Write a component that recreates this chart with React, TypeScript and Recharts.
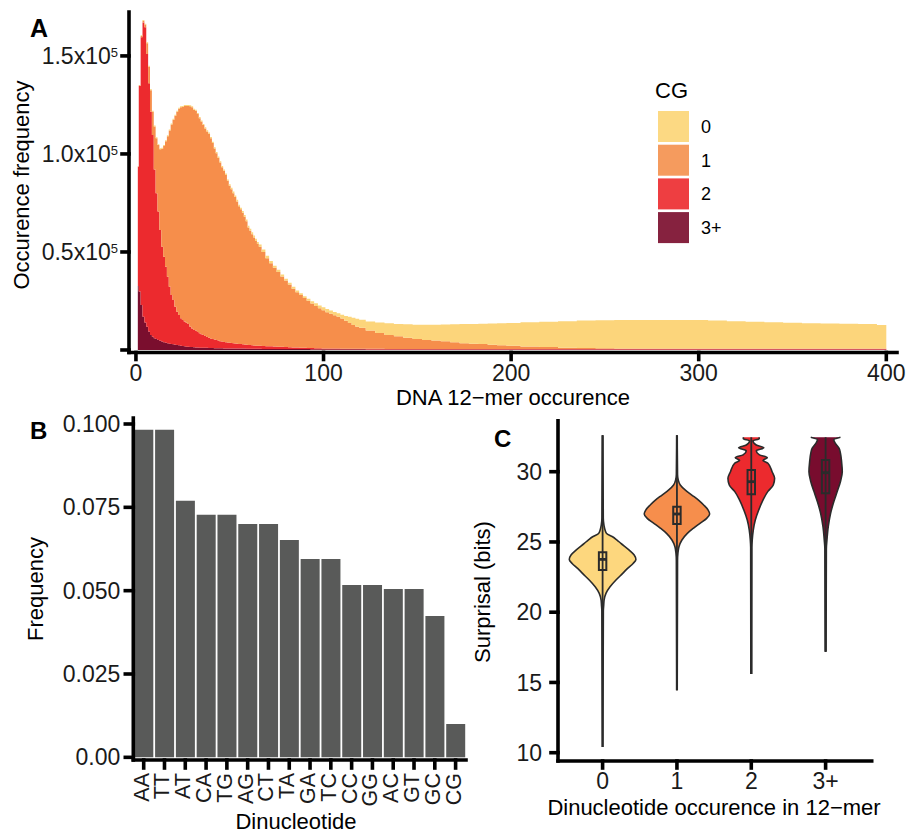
import React from "react";
import {
  AreaChart,
  Area,
  BarChart,
  Bar,
  ComposedChart,
  XAxis,
  YAxis,
  ReferenceArea,
  ReferenceLine,
} from "recharts";

const FONT = '"Liberation Sans", Arial, Helvetica, sans-serif';
const INK = "#1a1a1a";

// ---------- A: 12-mer occurrence histogram, counts in thousands, split by CG count
const occurrence = [
  1, 2, 3, 4, 5, 6, 7, 8, 9, 10, 11, 12, 13, 14, 15, 16, 17, 18, 19, 20, 21, 22, 23, 24, 25, 26, 27, 28, 29, 30,
  31, 32, 33, 34, 35, 36, 37, 38, 39, 40, 41, 42, 43, 44, 45, 46, 47, 48, 49, 50, 51, 52, 53, 54, 55, 56, 57, 58,
  59, 60, 61, 62, 63, 64, 65, 66,
  68, 70, 72, 74, 76, 78, 80, 82, 84, 86, 88, 90, 92, 94, 96, 98, 100, 102, 104, 106, 108, 110, 112, 114, 116, 118, 120,
  125, 130, 135, 140, 145, 150, 155, 160, 165, 170, 175, 180, 185, 190, 195, 200,
  210, 220, 230, 240, 250, 260, 270, 280, 290, 300, 310, 320, 330, 340, 350, 360, 370, 380, 390, 400,
];
const cg0 = [
  0.2, 0.2, 0.3, 0.3, 0.4, 0.5, 0.5, 0.5, 0.5, 0.5, 0.5, 0.5, 0.5, 0.5, 0.5, 0.5, 0.5, 0.5, 0.5, 0.5, 0.5, 0.5, 0.5,
  0.5, 0.5, 0.5, 0.5, 0.5, 0.5, 0.5, 0.5, 0.5, 0.5, 0.6, 0.6, 0.6, 0.6, 0.6, 0.6, 0.6, 0.6, 0.6, 0.6, 0.7, 0.7, 0.7,
  0.7, 0.7, 0.7, 0.8, 0.8, 0.8, 0.8, 0.8, 0.8, 0.8, 0.9, 0.9, 0.9, 0.9, 1.0, 1.0, 1.0, 1.1, 1.1, 1.2,
  1.3, 1.3, 1.2, 1.1, 1.1, 1.0, 1.0, 0.9, 0.9, 0.9, 0.9, 0.9, 1.0, 1.2, 1.4, 1.4, 1.5, 1.6, 1.6, 1.7, 1.8, 2.0, 2.5,
  3.1, 3.6, 4.0, 4.1,
  4.6, 5.3, 5.9, 6.3, 6.8, 7.3, 7.8, 8.1, 8.6, 9.2, 9.7, 10.1, 10.4, 10.8, 11.2, 11.6,
  12.3, 12.9, 13.5, 14.0, 14.3, 14.5, 14.5, 14.5, 14.5, 14.5, 14.2, 13.9, 13.6, 13.4, 13.1, 12.9, 12.7, 12.6, 12.4, 12.0,
];
const cg1 = [
  0.2, 0.3, 0.7, 1.0, 1.4, 5.5, 8.5, 10.9, 11.8, 22.0, 28.0, 33.9, 41.2, 49.9, 56.4, 64.0, 71.6, 79.7, 87.0, 92.0,
  97.5, 102.0, 105.1, 107.6, 108.7, 110.0, 110.6, 111.2, 112.4, 112.8, 112.4, 112.0, 111.2, 109.7, 108.5, 107.1,
  105.9, 104.9, 104.1, 102.2, 100.0, 97.5, 95.3, 93.2, 91.1, 88.9, 87.3, 85.4, 82.5, 80.1, 78.4, 76.5, 74.7, 72.6,
  70.2, 68.8, 67.1, 65.2, 63.0, 59.9, 58.3, 56.6, 55.1, 53.4, 51.9, 50.5,
  48.0, 44.9, 42.35, 40.1, 38.1, 35.9, 33.9, 32.0, 30.0, 28.25, 26.8, 25.4, 24.05, 22.7, 21.45, 20.4, 19.5, 18.55,
  17.8, 17.0, 16.2, 15.35, 14.25, 13.15, 12.2, 11.3, 10.7,
  9.3, 8.1, 7.15, 6.45, 5.75, 5.05, 4.6, 4.3, 3.9, 3.4, 3.0, 2.7, 2.5, 2.2, 1.9, 1.7,
  1.3, 1.0, 0.7, 0.5, 0.4, 0.3, 0.3, 0.3, 0.3, 0.3, 0.3, 0.3, 0.3, 0.3, 0.3, 0.3, 0.3, 0.3, 0.3, 0.3,
];
const cg2 = [
  60.9, 104.9, 136.5, 150.0, 150.6, 139.1, 126.6, 113.9, 102.9, 86.0, 74.4, 65.5, 56.5, 48.4, 43.6, 38.8, 34.0,
  29.1, 25.0, 22.6, 19.3, 17.0, 15.5, 14.0, 13.3, 12.6, 12.2, 11.7, 10.4, 9.5, 8.8, 8.7, 7.9, 7.3, 6.8, 6.5, 6.0,
  5.5, 5.2, 4.8, 4.6, 4.4, 4.2, 3.9, 3.6, 3.4, 3.3, 3.1, 3.0, 2.9, 2.8, 2.8, 2.6, 2.5, 2.4, 2.3, 2.2, 2.1, 2.1,
  2.0, 1.9, 1.8, 1.7, 1.6, 1.5, 1.5,
  1.45, 1.35, 1.35, 1.3, 1.2, 1.1, 1.0, 0.9, 0.85, 0.8, 0.75, 0.65, 0.6, 0.6, 0.55, 0.5, 0.4, 0.35, 0.3, 0.3,
  0.35, 0.3, 0.3, 0.3, 0.25, 0.25, 0.25,
  0.3, 0.3, 0.25, 0.25, 0.25, 0.25, 0.2, 0.25, 0.25, 0.25, 0.25, 0.25, 0.25, 0.25, 0.25, 0.25,
  0.25, 0.25, 0.3, 0.3, 0.3, 0.3, 0.3, 0.3, 0.3, 0.3, 0.3, 0.3, 0.3, 0.3, 0.3, 0.3, 0.3, 0.3, 0.3, 0.3,
];
const cg3 = [
  32.6, 29.8, 23.0, 17.0, 14.0, 11.9, 9.4, 7.7, 6.8, 6.0, 5.6, 5.1, 4.7, 4.3, 4.0, 3.7, 3.4, 3.2, 3.0, 2.9, 2.7,
  2.5, 2.4, 2.2, 2.0, 1.9, 1.7, 1.6, 1.5, 1.5, 1.4, 1.3, 1.3, 1.2, 1.2, 1.1, 1.1, 1.1, 1.0, 1.0, 1.0, 0.9, 0.9,
  0.9, 0.9, 0.9, 0.8, 0.8, 0.8, 0.8, 0.8, 0.7, 0.7, 0.7, 0.7, 0.7, 0.7, 0.7, 0.6, 0.6, 0.6, 0.6, 0.6, 0.6, 0.6, 0.6,
  0.55, 0.55, 0.5, 0.5, 0.5, 0.5, 0.5, 0.5, 0.45, 0.45, 0.45, 0.45, 0.45, 0.4, 0.4, 0.4, 0.4, 0.4, 0.4, 0.4,
  0.35, 0.35, 0.35, 0.35, 0.35, 0.35, 0.35,
  0.3, 0.3, 0.3, 0.3, 0.3, 0.3, 0.3, 0.25, 0.25, 0.25, 0.25, 0.25, 0.25, 0.25, 0.25, 0.25,
  0.25, 0.25, 0.2, 0.2, 0.2, 0.2, 0.2, 0.2, 0.2, 0.2, 0.2, 0.2, 0.2, 0.2, 0.2, 0.2, 0.2, 0.2, 0.2, 0.2,
];
const cgLabels = ["0", "1", "2", "3+"];
const cgFill = ["#FCD57B", "#F68E4B", "#EC2A2E", "#7A0E2E"];
const cgKeyFill = ["#FCD983", "#F59B5E", "#EE3E41", "#86223F"];
const occTicks = [0, 100, 200, 300, 400];
const countTicks = [0, 50, 100, 150];

const histRows = occurrence.map((x, i) => ({ x, c0: cg0[i], c1: cg1[i], c2: cg2[i], c3: cg3[i] }));

// ---------- B: dinucleotide frequency
const dinucleotides = ["AA", "TT", "AT", "CA", "TG", "AG", "CT", "TA", "GA", "TC", "CC", "GG", "AC", "GT", "GC", "CG"];
const dinucFreq = [
  0.0983, 0.0983, 0.077, 0.0728, 0.0728, 0.07, 0.07, 0.0652, 0.0595, 0.0595, 0.0517, 0.0517, 0.0505, 0.0505, 0.0424,
  0.01,
];
const freqTicks = [0, 0.025, 0.05, 0.075, 0.1];
const barRows = dinucleotides.map((name, i) => ({ name, freq: dinucFreq[i] }));

// ---------- C: surprisal violins (level in bits, half width in x units)
const violinFill = ["#FDD77E", "#F68E4C", "#EC2A2E", "#780C2E"];
const v0Levels = [10.4, 20.1, 20.5, 20.86, 21.34, 21.81, 22.29, 22.76, 23.12, 23.47, 23.76, 24.07, 24.42, 24.9, 25.15, 25.37, 25.6, 25.8, 26.2, 26.7, 32.6];
const v0Half = [0.004, 0.01, 0.015, 0.02, 0.045, 0.1, 0.18, 0.27, 0.336, 0.41, 0.448, 0.425, 0.358, 0.246, 0.19, 0.134, 0.054, 0.036, 0.018, 0.009, 0.004];
const v1Levels = [14.45, 23.7, 24.19, 24.66, 25.14, 25.61, 25.97, 26.33, 26.68, 26.99, 27.27, 27.63, 27.98, 28.34, 28.7, 29.05, 29.4, 29.8, 32.6];
const v1Half = [0.004, 0.008, 0.013, 0.027, 0.067, 0.14, 0.22, 0.31, 0.4, 0.44, 0.42, 0.36, 0.29, 0.2, 0.11, 0.045, 0.018, 0.008, 0.004];
const v2Levels = [15.6, 24.6, 25.14, 25.85, 26.56, 27.27, 27.98, 28.6, 29.05, 29.53, 30.0, 30.6, 30.8, 31.0, 31.2, 31.5, 31.7, 31.9, 32.2, 32.35, 32.45];
const v2Half = [0.006, 0.008, 0.013, 0.027, 0.054, 0.1, 0.157, 0.224, 0.296, 0.314, 0.28, 0.224, 0.157, 0.215, 0.11, 0.067, 0.17, 0.067, 0.022, 0.107, 0.107];
const v3Levels = [17.18, 24.5, 25.14, 26.1, 27.04, 27.86, 28.6, 29.3, 30.0, 30.7, 31.3, 31.68, 32.0, 32.27, 32.45];
const v3Half = [0.006, 0.01, 0.018, 0.036, 0.067, 0.11, 0.157, 0.2, 0.224, 0.215, 0.2, 0.18, 0.134, 0.11, 0.2];
const boxQ1 = [23.0, 26.27, 28.39, 28.46];
const boxMedian = [23.76, 26.99, 29.29, 29.93];
const boxQ3 = [24.26, 27.51, 30.12, 30.83];
const surprisalTicks = [10, 15, 20, 25, 30];

const violinLevels = [v0Levels, v1Levels, v2Levels, v3Levels];
const violinHalf = [v0Half, v1Half, v2Half, v3Half];
const levelSet = Array.from(new Set(violinLevels.flat())).sort((a, b) => b - a);
const violinRows = levelSet.map((s) => {
  const row: Record<string, any> = { s };
  violinLevels.forEach((lv, g) => {
    const k = lv.indexOf(s);
    row[`g${g}`] = k < 0 ? [null, null] : [g - violinHalf[g][k], g + violinHalf[g][k]];
  });
  return row;
});

const axisStyle = { stroke: "#000", strokeWidth: 3.6, strokeLinecap: "square" as const };
const tickText = { fontSize: 23, fill: INK, fontFamily: FONT };

const SciTick = (props: any) => {
  const { x, y, payload } = props;
  if (payload.value === 0) return null;
  return (
    <text x={x} y={y} dy={8} textAnchor="end" fontSize={23} fill={INK} fontFamily={FONT}>
      {(payload.value / 100).toFixed(1)}x10
      <tspan dy={-7} fontSize={13}>
        5
      </tspan>
    </text>
  );
};

const RotTick = (props: any) => {
  const { x, y, payload } = props;
  const bx = x + 5;
  return (
    <text
      x={bx}
      y={y}
      transform={`rotate(-90, ${bx}, ${y})`}
      textAnchor="end"
      fontSize={21.5}
      fill={INK}
      fontFamily={FONT}
    >
      {payload.value}
    </text>
  );
};

export default function App() {
  return (
    <div style={{ position: "absolute", left: 0, top: 0, width: 911, height: 835, background: "#fff", fontFamily: FONT }}>
      {/* Panel A */}
      <div style={{ position: "absolute", left: 0, top: 0 }}>
        <AreaChart width={911} height={400} data={histRows} margin={{ top: 12, right: 14, bottom: 17.5, left: 69 }}>
          <XAxis
            type="number"
            dataKey="x"
            domain={[-3.7, 405.7]}
            ticks={occTicks}
            allowDataOverflow
            height={30}
            tickSize={7}
            tickMargin={5}
            axisLine={axisStyle}
            tickLine={axisStyle}
            tick={tickText}
          />
          <YAxis
            type="number"
            domain={[-1.28, 172.4]}
            ticks={countTicks}
            allowDataOverflow
            width={60}
            tickSize={7}
            tickMargin={4}
            axisLine={axisStyle}
            tickLine={axisStyle}
            tick={<SciTick />}
          />
          <Area type="step" dataKey="c3" stackId="cg" stroke="none" fill={cgFill[3]} fillOpacity={1} isAnimationActive={false} dot={false} activeDot={false} />
          <Area type="step" dataKey="c2" stackId="cg" stroke="none" fill={cgFill[2]} fillOpacity={1} isAnimationActive={false} dot={false} activeDot={false} />
          <Area type="step" dataKey="c1" stackId="cg" stroke="none" fill={cgFill[1]} fillOpacity={1} isAnimationActive={false} dot={false} activeDot={false} />
          <Area type="step" dataKey="c0" stackId="cg" stroke="none" fill={cgFill[0]} fillOpacity={1} isAnimationActive={false} dot={false} activeDot={false} />
        </AreaChart>
      </div>

      {/* Panel B */}
      <div style={{ position: "absolute", left: 0, top: 400 }}>
        <BarChart
          width={480}
          height={435}
          data={barRows}
          margin={{ top: 18, right: 14, bottom: 35, left: 73.3 }}
          barCategoryGap={1}
        >
          <XAxis
            dataKey="name"
            interval={0}
            height={40}
            tickSize={8}
            tickMargin={5}
            axisLine={axisStyle}
            tickLine={axisStyle}
            tick={<RotTick />}
          />
          <YAxis
            type="number"
            domain={[-0.0008, 0.1018]}
            ticks={freqTicks}
            allowDataOverflow
            width={60}
            tickSize={8}
            tickMargin={5}
            axisLine={axisStyle}
            tickLine={axisStyle}
            tick={tickText}
            tickFormatter={(v: number) => (v === 0 ? "0.00" : v.toFixed(3))}
          />
          <Bar dataKey="freq" fill="#595A59" isAnimationActive={false} />
        </BarChart>
      </div>

      {/* Panel C */}
      <div style={{ position: "absolute", left: 470, top: 400 }}>
        <ComposedChart
          width={441}
          height={435}
          layout="vertical"
          data={violinRows}
          margin={{ top: 20.7, right: 39.3, bottom: 34, left: 28 }}
        >
          <XAxis
            type="number"
            domain={[-0.6, 3.62]}
            ticks={[0, 1, 2, 3]}
            allowDataOverflow
            height={40}
            tickSize={7}
            tickMargin={5}
            axisLine={axisStyle}
            tickLine={axisStyle}
            tick={tickText}
            tickFormatter={(v: number) => cgLabels[v]}
          />
          <YAxis
            type="number"
            dataKey="s"
            domain={[9.41, 33.63]}
            ticks={surprisalTicks}
            reversed
            allowDataOverflow
            width={60}
            tickSize={7}
            tickMargin={9}
            axisLine={axisStyle}
            tickLine={axisStyle}
            tick={tickText}
          />
          {cgLabels.map((_, g) => (
            <Area
              key={`v${g}`}
              type="monotone"
              dataKey={`g${g}`}
              connectNulls
              fill={violinFill[g]}
              fillOpacity={1}
              stroke="#2b2b2b"
              strokeWidth={1.6}
              isAnimationActive={false}
              dot={false}
              activeDot={false}
            />
          ))}
          {cgLabels.map((_, g) => (
            <ReferenceLine
              key={`w${g}`}
              segment={[
                { x: g, y: violinLevels[g][0] },
                { x: g, y: violinLevels[g][violinLevels[g].length - 1] },
              ]}
              stroke="#2b2b2b"
              strokeWidth={1.8}
            />
          ))}
          {cgLabels.map((_, g) => (
            <ReferenceArea
              key={`b${g}`}
              x1={g - 0.05}
              x2={g + 0.05}
              y1={boxQ1[g]}
              y2={boxQ3[g]}
              fill={violinFill[g]}
              fillOpacity={1}
              stroke="#2b2b2b"
              strokeWidth={2}
            />
          ))}
          {cgLabels.map((_, g) => (
            <ReferenceLine
              key={`m${g}`}
              segment={[
                { x: g - 0.05, y: boxMedian[g] },
                { x: g + 0.05, y: boxMedian[g] },
              ]}
              stroke="#2b2b2b"
              strokeWidth={2.8}
            />
          ))}
        </ComposedChart>
      </div>

      {/* titles, panel letters, legend */}
      <svg width={911} height={835} style={{ position: "absolute", left: 0, top: 0, pointerEvents: "none" }} fontFamily={FONT}>
        <text x={30} y={37} fontSize={25} fontWeight="bold" fill="#000">A</text>
        <text x={29} y={185} transform="rotate(-90, 29, 185)" textAnchor="middle" fontSize={22} fill="#000">
          Occurence frequency
        </text>
        <text x={513} y={405} textAnchor="middle" fontSize={22} fill="#000">
          DNA 12−mer occurence
        </text>
        <text x={655} y={98} fontSize={22} fill="#000">CG</text>
        {cgLabels.map((lab, i) => (
          <g key={lab}>
            <rect x={658} y={111 + i * 33.7} width={31} height={31} fill={cgKeyFill[i]} />
            <text x={701} y={133 + i * 33.7} fontSize={18} fill="#000">{lab}</text>
          </g>
        ))}

        <text x={30} y={439} fontSize={24} fontWeight="bold" fill="#000">B</text>
        <text x={43} y={589} transform="rotate(-90, 43, 589)" textAnchor="middle" fontSize={22} fill="#000">
          Frequency
        </text>
        <text x={296} y={829} textAnchor="middle" fontSize={22} fill="#000">Dinucleotide</text>

        <text x={494} y={447} fontSize={24} fontWeight="bold" fill="#000">C</text>
        <text x={490} y={592} transform="rotate(-90, 490, 592)" textAnchor="middle" fontSize={22} fill="#000">
          Surprisal (bits)
        </text>
        <text x={714} y={815} textAnchor="middle" fontSize={22} fill="#000">
          Dinucleotide occurence in 12−mer
        </text>
      </svg>
    </div>
  );
}
